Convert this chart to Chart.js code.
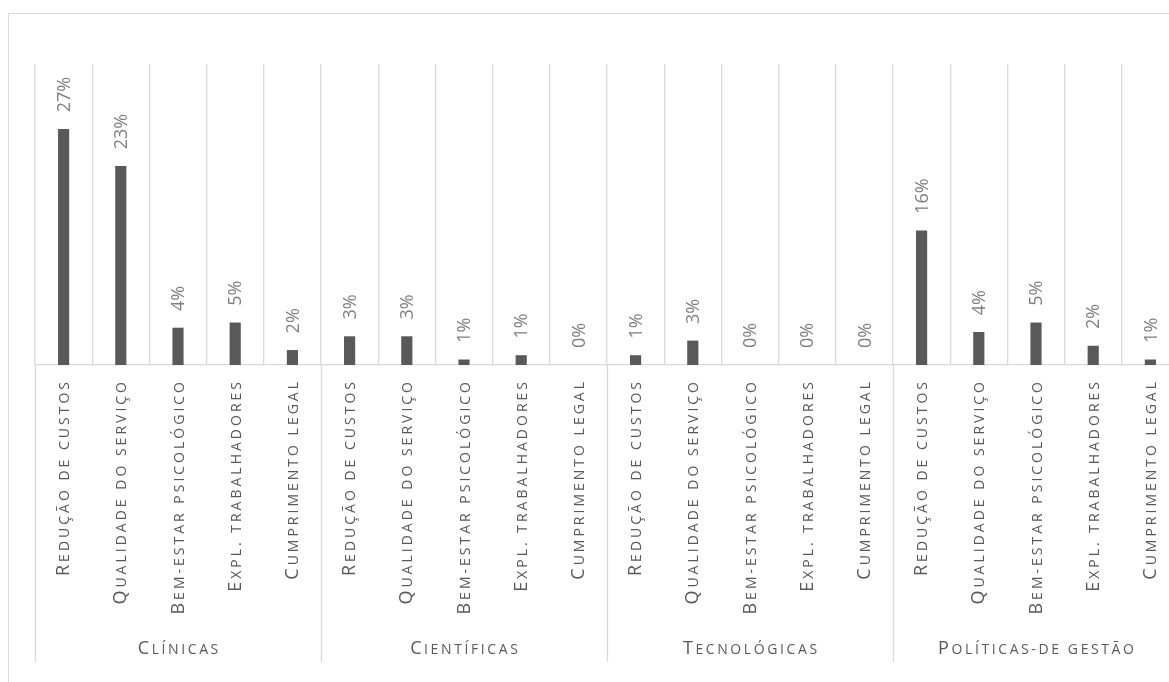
<!DOCTYPE html>
<html>
<head>
<meta charset="utf-8">
<script src="https://cdn.jsdelivr.net/npm/chart.js@4.4.1/dist/chart.umd.min.js"></script>
<style>
  html, body { margin: 0; padding: 0; background: #ffffff; overflow: hidden; width: 1169px; height: 682px; }
  #frame { position: absolute; left: 8px; top: 13px; width: 1199px; height: 719px; border: 1px solid #d9d9d9; background: #fff; }
  #chart { display: block; }
</style>
</head>
<body>
<div id="frame"><canvas id="chart" width="1199" height="719"></canvas></div>
<script>
// Groups of motivations and the factors repeated inside each group
const groups = ['Clínicas', 'Científicas', 'Tecnológicas', 'Políticas-de gestão'];
const factors = ['Redução de custos', 'Qualidade do serviço', 'Bem-estar psicológico', 'Expl. trabalhadores', 'Cumprimento legal'];

// Share of answers (%) for each factor, per group
const clinicas     = [27.4, 23.1, 4.3, 4.9, 1.7];
const cientificas  = [3.3, 3.3, 0.6, 1.1, 0];
const tecnologicas = [1.1, 2.8, 0, 0, 0];
const politicas    = [15.6, 3.8, 4.9, 2.2, 0.6];

const labels = groups.flatMap(() => factors);
const values = [...clinicas, ...cientificas, ...tecnologicas, ...politicas];

const FONT = '"Open Sans", "Lato", sans-serif';
const TEXT_DARK = '#595959';
const TEXT_LIGHT = '#7f7f7f';
const GRID = '#d9d9d9';
const BAR = '#595959';

// Small-caps text: capitals drawn large, everything else as smaller capitals
function capsPieces(text, bigSize, smallSize) {
  return [...text].map(ch => {
    const isUpper = ch !== ch.toLowerCase() && ch === ch.toUpperCase();
    return { ch: ch.toUpperCase(), size: isUpper ? bigSize : smallSize };
  });
}
function capsWidth(ctx, pieces, spacing) {
  let w = 0;
  pieces.forEach((p, i) => {
    ctx.font = p.size + 'px ' + FONT;
    w += ctx.measureText(p.ch).width + (i < pieces.length - 1 ? spacing : 0);
  });
  return w;
}
function drawCaps(ctx, pieces, startX, baseline, spacing) {
  let x = startX;
  ctx.textAlign = 'left';
  ctx.textBaseline = 'alphabetic';
  pieces.forEach(p => {
    ctx.font = p.size + 'px ' + FONT;
    ctx.fillText(p.ch, x, baseline);
    x += ctx.measureText(p.ch).width + spacing;
  });
}

// Category labels, group labels and group separators under the axis
const axisLabels = {
  id: 'axisLabels',
  afterDraw(chart) {
    const ctx = chart.ctx;
    const xs = chart.scales.x;
    const area = chart.chartArea;
    const step = xs.getPixelForValue(1) - xs.getPixelForValue(0);
    const bottom = area.bottom + 297;
    ctx.save();
    // separators between groups
    ctx.strokeStyle = GRID;
    ctx.lineWidth = 1.3;
    for (let g = 0; g <= groups.length; g++) {
      const x = Math.round(xs.getPixelForValue(g * factors.length) - step / 2) + 0.5;
      ctx.beginPath();
      ctx.moveTo(x, area.bottom);
      ctx.lineTo(x, bottom);
      ctx.stroke();
    }
    // rotated factor names
    ctx.fillStyle = TEXT_DARK;
    labels.forEach((lab, i) => {
      const cx = xs.getPixelForValue(i);
      const pieces = capsPieces(lab, 18, 14);
      const w = capsWidth(ctx, pieces, 3);
      ctx.save();
      ctx.translate(cx, area.bottom + 17);
      ctx.rotate(-Math.PI / 2);
      drawCaps(ctx, pieces, -w, 5.5, 3);
      ctx.restore();
    });
    // group names
    groups.forEach((g, gi) => {
      const x0 = xs.getPixelForValue(gi * factors.length) - step / 2;
      const x1 = x0 + step * factors.length;
      const pieces = capsPieces(g, 18, 14);
      const w = capsWidth(ctx, pieces, 2.6);
      drawCaps(ctx, pieces, (x0 + x1) / 2 - w / 2, bottom - 8, 2.6);
    });
    ctx.restore();
  }
};

// Rotated value labels above each bar
const valueLabels = {
  id: 'valueLabels',
  afterDatasetsDraw(chart) {
    const ctx = chart.ctx;
    const meta = chart.getDatasetMeta(0);
    const data = chart.data.datasets[0].data;
    ctx.save();
    ctx.fillStyle = TEXT_LIGHT;
    ctx.font = '18px ' + FONT;
    ctx.textAlign = 'left';
    ctx.textBaseline = 'middle';
    meta.data.forEach((bar, i) => {
      ctx.save();
      ctx.translate(bar.x, bar.y - 17);
      ctx.rotate(-Math.PI / 2);
      ctx.fillText(Math.round(data[i]) + '%', 0, 1);
      ctx.restore();
    });
    ctx.restore();
  }
};

function build() {
  new Chart(document.getElementById('chart'), {
    type: 'bar',
    data: {
      labels: labels,
      datasets: [{
        data: values,
        backgroundColor: c => (c.raw > 0 ? BAR : 'rgba(0,0,0,0)'),
        borderWidth: 0,
        barThickness: 10.5
      }]
    },
    options: {
      responsive: false,
      animation: false,
      events: [],
      layout: { padding: { left: 26, top: 50, right: 29, bottom: 368 } },
      plugins: { legend: { display: false }, tooltip: { enabled: false }, title: { display: false } },
      scales: {
        x: {
          offset: true,
          grid: { offset: true, color: GRID, lineWidth: 1.3, drawTicks: false },
          border: { color: GRID, width: 1.3 },
          ticks: { display: false }
        },
        y: {
          display: false,
          min: 0,
          max: 35
        }
      }
    },
    plugins: [valueLabels, axisLabels]
  });
}

if (document.fonts && document.fonts.load) {
  Promise.all([
    document.fonts.load('18px "Open Sans"'),
    document.fonts.load('14px "Open Sans"')
  ]).then(build, build);
} else {
  build();
}
</script>
</body>
</html>
